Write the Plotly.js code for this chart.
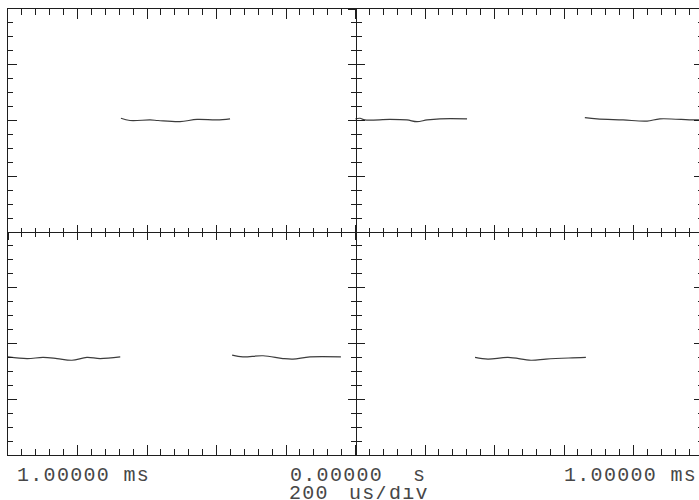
<!DOCTYPE html>
<html>
<head>
<meta charset="utf-8">
<script src="https://cdn.plot.ly/plotly-3.0.1.min.js"></script>
<style>
html,body{margin:0;padding:0;overflow:hidden;background:#fff}
#chart{width:705px;height:500px}
.annotation-text{letter-spacing:1.3px}
</style>
</head>
<body>
<div id="chart"></div>
<script>
// time in microseconds, vertical value in screen divisions
const hiSeg1X = [-675, -649, -591, -568, -505, -456, -399, -361];
const hiSeg1Y = [2.04, 2.00, 2.01, 2.00, 1.98, 2.02, 2.01, 2.03];
const hiSeg2X = [0, 13, 27, 99, 148, 177, 206, 243, 321];
const hiSeg2Y = [2.03, 2.04, 2.01, 2.02, 2.01, 1.98, 2.01, 2.03, 2.03];
const hiSeg3X = [660, 695, 770, 839, 876, 977, 1000];
const hiSeg3Y = [2.05, 2.03, 2.01, 1.99, 2.03, 2.01, 2.02];

const loSeg1X = [-1000, -945, -899, -859, -816, -773, -735, -677];
const loSeg1Y = [-2.24, -2.27, -2.25, -2.27, -2.30, -2.25, -2.27, -2.24];
const loSeg2X = [-355, -324, -266, -209, -180, -131, -42];
const loSeg2Y = [-2.21, -2.24, -2.22, -2.27, -2.28, -2.24, -2.24];
const loSeg3X = [344, 381, 439, 505, 548, 614, 663];
const loSeg3Y = [-2.25, -2.28, -2.25, -2.30, -2.28, -2.26, -2.25];

const timeLabels = ["1.00000 ms", "0.00000", "s", "1.00000 ms"];
const scaleLabels = ["200", "us/div"];

function joinSegs(segs) {
  const out = [];
  segs.forEach((s, i) => { if (i) out.push(null); out.push(...s); });
  return out;
}

const traceColor = '#3c3c3c';
const gridColor = '#1e1e1e';

const data = [{
  type: 'scatter', mode: 'lines',
  x: joinSegs([hiSeg1X, hiSeg2X, hiSeg3X, loSeg1X, loSeg2X, loSeg3X]),
  y: joinSegs([hiSeg1Y, hiSeg2Y, hiSeg3Y, loSeg1Y, loSeg2Y, loSeg3Y]),
  connectgaps: false,
  line: {color: traceColor, width: 1.2, shape: 'spline', smoothing: 1},
  hoverinfo: 'skip', showlegend: false
}];

const xBase = {range: [-1000, 1000], showgrid: false, zeroline: false, showline: true,
  linecolor: gridColor, linewidth: 1, tickcolor: gridColor, tickwidth: 1,
  tickmode: 'linear', tick0: 0, showticklabels: false, fixedrange: true};
const yBase = {range: [-4, 4], showgrid: false, zeroline: false, showline: true,
  linecolor: gridColor, linewidth: 1, tickcolor: gridColor, tickwidth: 1,
  tickmode: 'linear', tick0: 0, showticklabels: false, fixedrange: true};
const ax = (base, extra) => Object.assign({}, base, extra);

const layout = {
  width: 705, height: 500,
  margin: {l: 8, r: 2, t: 9, b: 45, pad: 0},
  paper_bgcolor: '#ffffff', plot_bgcolor: '#ffffff',
  showlegend: false,
  // frame: minor and major ticks
  xaxis:  ax(xBase, {mirror: 'ticks', ticks: 'inside', ticklen: 6, dtick: 40}),
  xaxis2: ax(xBase, {overlaying: 'x', anchor: 'y', mirror: 'ticks', ticks: 'inside', ticklen: 10, dtick: 200}),
  // centre horizontal line
  xaxis3: ax(xBase, {overlaying: 'x', anchor: 'free', position: 0.5, ticks: 'outside', ticklen: 4, dtick: 40}),
  xaxis4: ax(xBase, {overlaying: 'x', anchor: 'free', position: 0.5, ticks: 'inside', ticklen: 4, dtick: 40}),
  xaxis5: ax(xBase, {overlaying: 'x', anchor: 'free', position: 0.5, ticks: 'outside', ticklen: 7, dtick: 200}),
  xaxis6: ax(xBase, {overlaying: 'x', anchor: 'free', position: 0.5, ticks: 'inside', ticklen: 7, dtick: 200}),
  yaxis:  ax(yBase, {mirror: 'ticks', ticks: 'inside', ticklen: 5, dtick: 0.25}),
  yaxis2: ax(yBase, {overlaying: 'y', anchor: 'x', mirror: 'ticks', ticks: 'inside', ticklen: 9, dtick: 1}),
  // centre vertical line
  yaxis3: ax(yBase, {overlaying: 'y', anchor: 'free', position: 0.5, ticks: 'outside', ticklen: 5, dtick: 0.25}),
  yaxis4: ax(yBase, {overlaying: 'y', anchor: 'free', position: 0.5, ticks: 'inside', ticklen: 5, dtick: 0.25}),
  yaxis5: ax(yBase, {overlaying: 'y', anchor: 'free', position: 0.5, ticks: 'outside', ticklen: 8, dtick: 1}),
  yaxis6: ax(yBase, {overlaying: 'y', anchor: 'free', position: 0.5, ticks: 'inside', ticklen: 8, dtick: 1}),
  annotations: []
};

const labelFont = {family: 'Liberation Mono', size: 20, color: '#474747'};
const row1Pos = [0.0115, 0.405, 0.582, 0.7986];
timeLabels.forEach((t, i) => layout.annotations.push({
  text: t, xref: 'paper', yref: 'paper', x: row1Pos[i], y: -0.0448,
  xanchor: 'left', yanchor: 'middle', height: 16, borderpad: 0,
  showarrow: false, font: labelFont
}));
const row2Pos = [0.4022, 0.4885];
scaleLabels.forEach((t, i) => layout.annotations.push({
  text: t, xref: 'paper', yref: 'paper', x: row2Pos[i], y: -0.0841,
  xanchor: 'left', yanchor: 'middle', height: 14, borderpad: 0,
  showarrow: false, font: labelFont
}));

// empty traces bind the overlay axes
['x2', 'x3', 'x4', 'x5', 'x6'].forEach(a => data.push({type: 'scatter', mode: 'lines', x: [], y: [], xaxis: a, yaxis: 'y', showlegend: false, hoverinfo: 'skip'}));
['y2', 'y3', 'y4', 'y5', 'y6'].forEach(a => data.push({type: 'scatter', mode: 'lines', x: [], y: [], xaxis: 'x', yaxis: a, showlegend: false, hoverinfo: 'skip'}));

Plotly.newPlot('chart', data, layout, {staticPlot: true, displayModeBar: false});
</script>
</body>
</html>
